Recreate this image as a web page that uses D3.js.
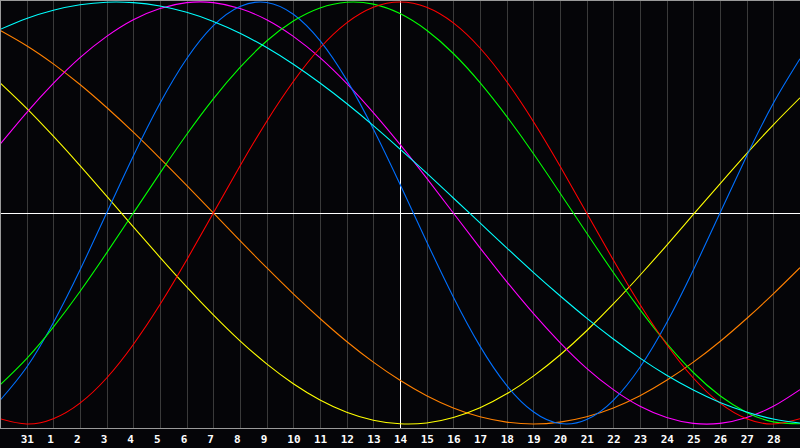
<!DOCTYPE html>
<html>
<head>
<meta charset="utf-8">
<script src="https://cdn.jsdelivr.net/npm/d3@7/dist/d3.min.js"></script>
<style>
  html, body { margin: 0; padding: 0; background: #050508; }
  svg { display: block; }
</style>
</head>
<body>
<svg id="chart" width="800" height="448"></svg>
<script>
// Day index 0..30 (day of month shown below the grid)
const days = [30, 31, 1, 2, 3, 4, 5, 6, 7, 8, 9, 10, 11, 12, 13, 14, 15, 16, 17, 18, 19, 20, 21, 22, 23, 24, 25, 26, 27, 28, 29];
const tickLabels = ["31","1","2","3","4","5","6","7","8","9","10","11","12","13","14","15","16","17","18","19","20","21","22","23","24","25","26","27","28"];
const today = 14;

const blueValues = [-0.888,-0.731,-0.520,-0.270,0.000,0.270,0.520,0.731,0.888,0.979,0.998,0.942,0.817,0.631,0.398,0.136,-0.136,-0.398,-0.631,-0.817,-0.942,-0.998,-0.979,-0.888,-0.731,-0.520,-0.270,0.000,0.270,0.520,0.731];
const redValues = [-0.975,-1.000,-0.975,-0.901,-0.782,-0.623,-0.434,-0.223,0.000,0.223,0.434,0.623,0.782,0.901,0.975,1.000,0.975,0.901,0.782,0.623,0.434,0.223,0.000,-0.223,-0.434,-0.623,-0.782,-0.901,-0.975,-1.000,-0.975];
const greenValues = [-0.815,-0.690,-0.541,-0.372,-0.189,0.000,0.189,0.372,0.541,0.690,0.815,0.910,0.972,0.999,0.990,0.945,0.866,0.756,0.618,0.458,0.282,0.095,-0.095,-0.282,-0.458,-0.618,-0.756,-0.866,-0.945,-0.990,-0.999];
const magentaValues = [0.325,0.476,0.614,0.736,0.837,0.916,0.969,0.997,0.997,0.969,0.916,0.837,0.736,0.614,0.476,0.325,0.165,0.000,-0.165,-0.325,-0.476,-0.614,-0.736,-0.837,-0.916,-0.969,-0.997,-0.997,-0.969,-0.916,-0.837];
const yellowValues = [0.617,0.496,0.364,0.225,0.080,-0.066,-0.210,-0.350,-0.483,-0.606,-0.715,-0.809,-0.886,-0.944,-0.982,-0.999,-0.995,-0.969,-0.923,-0.857,-0.773,-0.673,-0.558,-0.431,-0.295,-0.153,-0.007,0.138,0.281,0.418,0.546];
const orangeValues = [0.866,0.793,0.707,0.609,0.500,0.383,0.259,0.131,0.000,-0.131,-0.259,-0.383,-0.500,-0.609,-0.707,-0.793,-0.866,-0.924,-0.966,-0.991,-1.000,-0.991,-0.966,-0.924,-0.866,-0.793,-0.707,-0.609,-0.500,-0.383,-0.259];
const cyanValues = [0.870,0.922,0.961,0.987,0.999,0.997,0.981,0.951,0.908,0.852,0.784,0.705,0.616,0.519,0.414,0.303,0.189,0.071,-0.047,-0.165,-0.281,-0.392,-0.498,-0.597,-0.688,-0.769,-0.839,-0.898,-0.943,-0.976,-0.995];

const series = [
  { name: "orange", color: "#ff8000", values: orangeValues },
  { name: "yellow", color: "#ffff00", values: yellowValues },
  { name: "magenta", color: "#ff00ff", values: magentaValues },
  { name: "blue", color: "#0070ff", values: blueValues },
  { name: "green", color: "#00ff00", values: greenValues },
  { name: "red", color: "#ff0000", values: redValues },
  { name: "cyan", color: "#00ffff", values: cyanValues }
];

const W = 800, H = 448, plotBottom = 428;
const svg = d3.select("#chart");

svg.append("rect").attr("x", 0).attr("y", 0).attr("width", W).attr("height", H).attr("fill", "#050508");

const x = d3.scaleLinear().domain([0, days.length - 1]).range([0, W]);
const y = d3.scaleLinear().domain([-1, 1]).range([424, 2]);

// vertical grid lines
const gridIdx = d3.range(1, days.length - 1);
svg.append("g").selectAll("line").data(gridIdx).join("line")
  .attr("x1", d => Math.round(x(d)) + 0.5).attr("x2", d => Math.round(x(d)) + 0.5)
  .attr("y1", 0).attr("y2", plotBottom)
  .attr("stroke", d => days[d] === today ? "#ffffff" : "#3a3a3a")
  .attr("stroke-width", 1)
  .attr("shape-rendering", "crispEdges");

// center line
svg.append("line")
  .attr("x1", 0).attr("x2", W)
  .attr("y1", Math.round(y(0)) + 0.5).attr("y2", Math.round(y(0)) + 0.5)
  .attr("stroke", "#ffffff").attr("shape-rendering", "crispEdges");

// today line on top of center line
const todayIdx = days.indexOf(today);
svg.append("line")
  .attr("x1", Math.round(x(todayIdx)) + 0.5).attr("x2", Math.round(x(todayIdx)) + 0.5)
  .attr("y1", 0).attr("y2", plotBottom)
  .attr("stroke", "#ffffff").attr("shape-rendering", "crispEdges");

// border lines
svg.append("line").attr("x1", 0.5).attr("x2", 0.5).attr("y1", 0).attr("y2", plotBottom)
  .attr("stroke", "#9a9a9a").attr("shape-rendering", "crispEdges");
svg.append("line").attr("x1", 0).attr("x2", W).attr("y1", 0.5).attr("y2", 0.5)
  .attr("stroke", "#9a9a9a").attr("shape-rendering", "crispEdges");
svg.append("line").attr("x1", 0).attr("x2", W).attr("y1", plotBottom + 0.5).attr("y2", plotBottom + 0.5)
  .attr("stroke", "#9a9a9a").attr("shape-rendering", "crispEdges");

// curves
const clip = svg.append("clipPath").attr("id", "plotclip")
  .append("rect").attr("x", 1).attr("y", 1).attr("width", W - 1).attr("height", plotBottom - 1);

const line = d3.line()
  .x((d, i) => x(i))
  .y(d => y(d))
  .curve(d3.curveNatural);

svg.append("g").attr("clip-path", "url(#plotclip)")
  .selectAll("path").data(series).join("path")
  .attr("d", d => line(d.values))
  .attr("fill", "none")
  .attr("stroke", d => d.color)
  .attr("stroke-width", 1.1);

// tick labels
svg.append("g").selectAll("text").data(tickLabels).join("text")
  .attr("x", (d, i) => x(i + 1) - 6)
  .attr("y", 443)
  .attr("fill", "#ffffff")
  .attr("font-family", "DejaVu Sans Mono")
  .attr("font-weight", "bold")
  .attr("font-size", 11)
  .attr("text-anchor", "start")
  .text(d => d);
</script>
</body>
</html>
